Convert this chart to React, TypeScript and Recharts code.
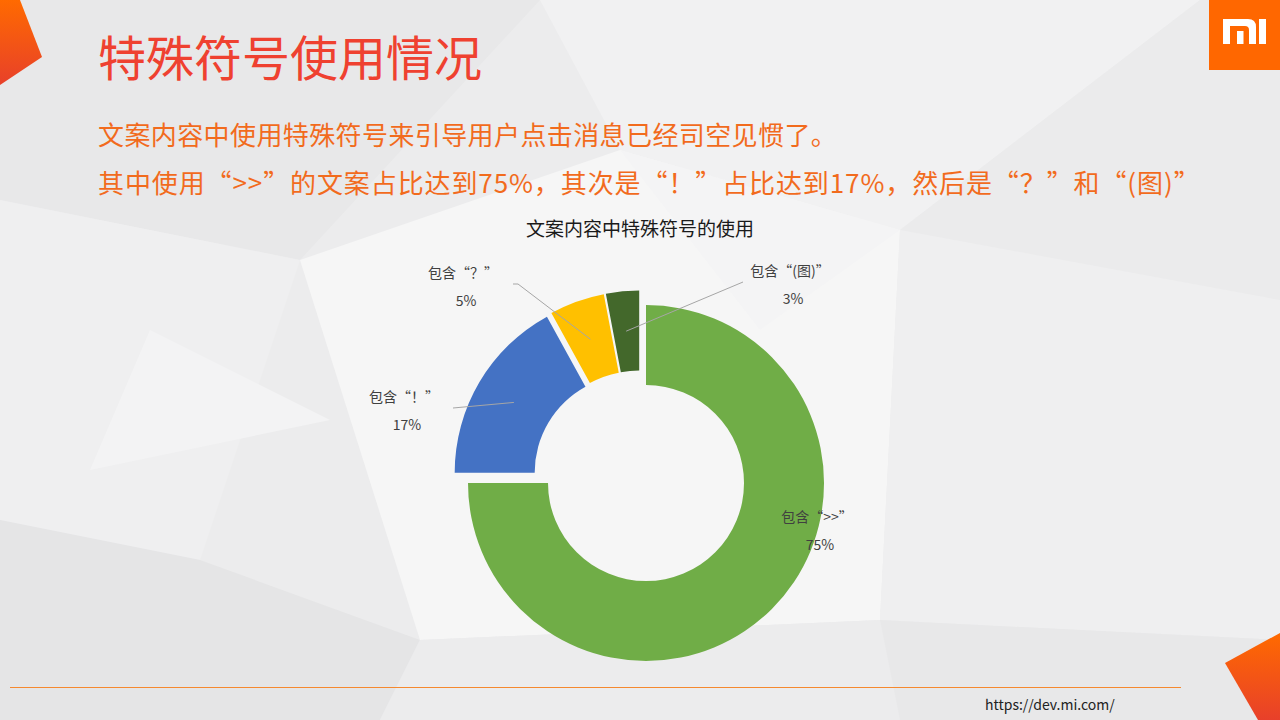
import { PieChart, Pie, Cell } from "recharts";

const NAMES = ["包含“>>”", "包含“！”", "包含“？”", "包含“(图)”"];
const VALUES = [75, 17, 5, 3];
const COLORS = ["#70ad47", "#4472c4", "#ffc000", "#43682b"];

const data = NAMES.map((name, i) => ({ name, value: VALUES[i] }));

const FONT = '"Microsoft YaHei", "Noto Sans CJK SC", sans-serif';
const CX = 640;
const CY = 477;
const INNER = 98;
const OUTER = 178;
const EXPLODE = 8.5;
const RAD = Math.PI / 180;

// label text centres and leader starts, relative to the pie centre
const LABEL_LAYOUT: { x: number; y: number; line: number[][] | null }[] = [
  { x: 177, y: 39, line: null },
  { x: -236, y: -81, line: [[-187, -69]] },
  { x: -177, y: -205, line: [[-127, -193], [-122, -193]] },
  { x: 150, y: -207, line: [[103, -195]] },
];

const TOTAL = VALUES.reduce((a, b) => a + b, 0);
const MIDS = VALUES.map((v, i) => {
  const before = VALUES.slice(0, i).reduce((a, b) => a + b, 0);
  return 90 - ((before + v / 2) / TOTAL) * 360;
});

const BG_POLYS: [string, string][] = [
  ["0,0 540,0 300,260 0,200", "#e8e8e9"],
  ["540,0 1200,0 900,230 620,150", "#f1f1f2"],
  ["1200,0 1280,0 1280,300 900,230", "#ebebec"],
  ["0,200 300,260 200,560 0,520", "#efeff0"],
  ["300,260 620,150 900,230 880,620 420,640", "#f6f6f6"],
  ["900,230 1280,300 1280,640 880,620", "#efeff0"],
  ["0,520 200,560 420,640 380,720 0,720", "#e5e5e6"],
  ["420,640 880,620 900,720 380,720", "#ececed"],
  ["880,620 1280,640 1280,720 900,720", "#e8e8e9"],
  ["620,150 900,230 760,330", "#f4f4f5"],
  ["150,330 330,420 90,470", "#f3f3f4"],
];

function renderLabel(i: number) {
  return (props: any) => {
    if (props.index !== i) return null;
    const lay = LABEL_LAYOUT[i];
    const r = (props.innerRadius + props.outerRadius) / 2;
    const ex = props.cx + r * Math.cos(-props.midAngle * RAD);
    const ey = props.cy + r * Math.sin(-props.midAngle * RAD);
    const pts = lay.line ? [...lay.line.map(([x, y]) => [CX + x, CY + y]), [ex, ey]] : null;
    return (
      <g key={`lab-${i}`}>
        {pts && (
          <polyline
            points={pts.map((p) => p.join(",")).join(" ")}
            fill="none"
            stroke="#a6a6a6"
            strokeWidth={1}
          />
        )}
        <text
          x={CX + lay.x}
          y={CY + lay.y}
          textAnchor="middle"
          dominantBaseline="central"
          fill="#404040"
          fontSize={14}
          fontFamily={FONT}
        >
          {props.name}
        </text>
        <text
          x={CX + lay.x + 3}
          y={CY + lay.y + 28}
          textAnchor="middle"
          dominantBaseline="central"
          fill="#404040"
          fontSize={14}
          fontFamily={FONT}
        >
          {`${props.value}%`}
        </text>
      </g>
    );
  };
}

export default function App() {
  return (
    <div
      style={{
        position: "absolute",
        left: 0,
        top: 0,
        width: 1280,
        height: 720,
        overflow: "hidden",
        background: "#ececed",
        fontFamily: FONT,
      }}
    >
      <svg width={1280} height={720} style={{ position: "absolute", left: 0, top: 0 }}>
        <defs>
          <linearGradient id="corner" x1="0" y1="0" x2="0" y2="1">
            <stop offset="0%" stopColor="#ff6a00" />
            <stop offset="100%" stopColor="#e8402a" />
          </linearGradient>
        </defs>
        {BG_POLYS.map(([p, c], k) => (
          <polygon key={k} points={p} fill={c} />
        ))}
        <polygon points="0,0 20,0 42,57 0,85" fill="url(#corner)" />
        <polygon points="1225,663 1280,633 1280,720 1258,720" fill="url(#corner)" />
        <rect x={1209} y={0} width={71} height={70} fill="#ff6700" />
        <path
          d="M1223 19 H1248 Q1256 19 1256 27 V44 H1249 V30 Q1249 26 1245 26 H1230 V44 H1223 Z"
          fill="#ffffff"
        />
        <rect x={1237} y={31} width={6.5} height={13} fill="#ffffff" />
        <rect x={1259} y={19} width={7} height={25} fill="#ffffff" />
      </svg>

      <div style={{ position: "absolute", left: 0, top: 0 }}>
        <PieChart width={1280} height={720} margin={{ top: 0, right: 0, bottom: 0, left: 0 }}>
          {VALUES.map((_, i) => (
            <Pie
              key={i}
              data={data}
              dataKey="value"
              nameKey="name"
              cx={CX + EXPLODE * Math.cos(MIDS[i] * RAD)}
              cy={CY - EXPLODE * Math.sin(MIDS[i] * RAD)}
              innerRadius={INNER}
              outerRadius={OUTER}
              startAngle={90}
              endAngle={-270}
              stroke="none"
              isAnimationActive={false}
              labelLine={false}
              label={renderLabel(i)}
            >
              {data.map((_, j) => (
                <Cell key={j} fill={j === i ? COLORS[j] : "transparent"} stroke="none" />
              ))}
            </Pie>
          ))}
        </PieChart>
      </div>

      <svg
        width={1280}
        height={720}
        style={{ position: "absolute", left: 0, top: 0, pointerEvents: "none" }}
      >
        <rect x={10} y={687} width={1171} height={1} fill="#f5892f" />
        <text x={98} y={55} fontSize={48} fill="#ef4130" dominantBaseline="central" fontFamily={FONT}>
          特殊符号使用情况
        </text>
        <text
          x={98}
          y={133}
          fontSize={26}
          letterSpacing={0.4}
          fill="#f26b1d"
          dominantBaseline="central"
          fontFamily={FONT}
        >
          文案内容中使用特殊符号来引导用户点击消息已经司空见惯了。
        </text>
        <text
          x={98}
          y={181}
          fontSize={26}
          letterSpacing={0.9}
          fill="#f26b1d"
          dominantBaseline="central"
          fontFamily={FONT}
        >
          其中使用“&gt;&gt;”的文案占比达到75%，其次是“！”占比达到17%，然后是“？”和“(图)”
        </text>
        <text
          x={640}
          y={227}
          fontSize={19}
          fill="#1a1a1a"
          textAnchor="middle"
          dominantBaseline="central"
          fontFamily={FONT}
        >
          文案内容中特殊符号的使用
        </text>
        <text x={985} y={704} fontSize={14} fill="#222222" dominantBaseline="central" fontFamily={FONT}>
          https://dev.mi.com/
        </text>
      </svg>
    </div>
  );
}
